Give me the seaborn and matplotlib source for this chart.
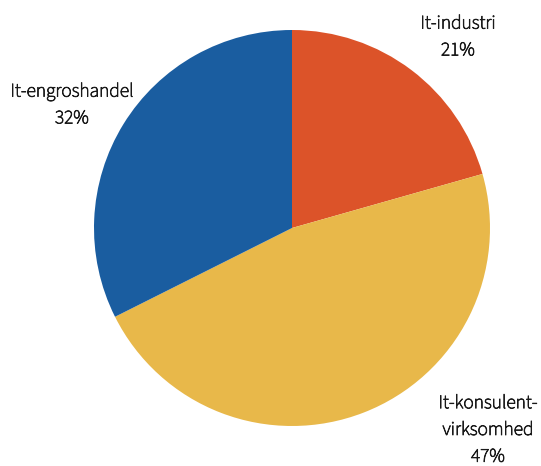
import matplotlib
matplotlib.use("Agg")
import matplotlib.pyplot as plt
import matplotlib.patheffects as pe
import seaborn as sns

# Data
categories = ["It-industri", "It-konsulent-\nvirksomhed", "It-engroshandel"]
shares = [20.6, 47.0, 32.4]
pct_labels = ["21%", "47%", "32%"]
colors = ["#DC5329", "#E8B84A", "#1A5DA0"]

sns.set_theme(style="white")
plt.rcParams['font.family'] = ['Source Sans 3', 'DejaVu Sans']

fig = plt.figure(figsize=(5.41, 4.66), dpi=100)
# pie centre at (292, 228) px, radius ~198 px
ax = fig.add_axes([94 / 541, 40 / 466, 396 / 541, 396 / 466])

ax.pie(shares, colors=colors, startangle=90, counterclock=False,
       radius=1.0, wedgeprops={"linewidth": 0})
ax.set_xlim(-1, 1)
ax.set_ylim(-1, 1)
ax.set_aspect("equal")
ax.axis("off")

# label positions in pixels (x, y from top)
label_pos = [(458, 37), (488, 430), (72, 105)]
txt_color = "#1a1a1a"
for cat, pct, (px, py) in zip(categories, pct_labels, label_pos):
    # font renders thin here, so thicken it a little with a stroke
    fig.text(px / 541, 1 - py / 466, f"{cat}\n{pct}", ha="center", va="center",
             fontsize=14, color=txt_color, linespacing=1.45,
             path_effects=[pe.withStroke(linewidth=0.55, foreground=txt_color)])

fig.savefig("out.png", dpi=100)
